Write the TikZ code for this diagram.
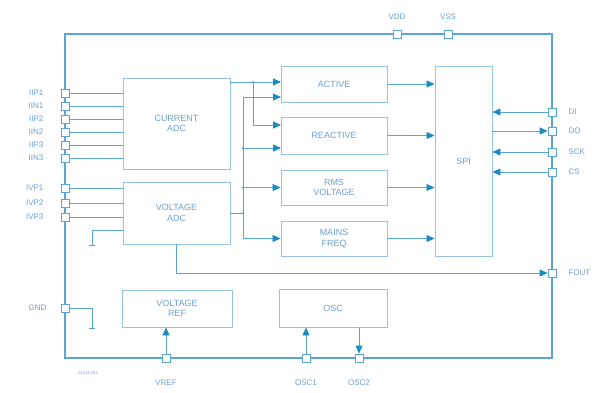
\documentclass[tikz,border=0pt]{standalone}
\usepackage{fontspec}
\setmainfont{Liberation Sans}
\usetikzlibrary{positioning,arrows.meta}
\definecolor{lineblue}{RGB}{90,165,215}
\definecolor{boxblue}{RGB}{150,195,228}
\definecolor{txtblue}{RGB}{105,160,210}
\definecolor{tipblue}{RGB}{25,140,195}

\begin{document}
\begin{tikzpicture}[
        x=1pt, y=-1pt,
        block/.style={draw=boxblue, line width=0.9pt, align=center, text=txtblue, font=\fontsize{9}{10.5}\selectfont, inner sep=0pt},
        pin/.style={draw=lineblue, fill=white, line width=0.8pt, minimum size=8pt, inner sep=0pt},
        lbl/.style={text=txtblue, font=\fontsize{8}{9.5}\selectfont, inner sep=0pt},
        wire/.style={draw=lineblue, line width=0.8pt},
        sig/.style={wire, -{Triangle[length=8pt,width=7pt,color=tipblue]}},
        frame/.style={draw=lineblue, line width=1.3pt},
        dot/.style={circle, fill=lineblue, inner sep=0pt, minimum size=2.5pt},
    ]
    \useasboundingbox (0,0) rectangle (597,392);
    \draw[frame] (65,34) rectangle (552,358);

    % blocks
    \node[block, minimum width=107pt, minimum height=91pt] (cadc) at (176.5,123.5) {CURRENT\\ADC};
    \node[block, minimum width=107pt, minimum height=62pt] (vadc) at (176.5,213) {VOLTAGE\\ADC};
    \node[block, minimum width=110pt, minimum height=37pt] (vrefb) at (177,308.5) {VOLTAGE\\REF};
    \node[block, minimum width=108pt, minimum height=38pt] (osc) at (333,308) {OSC};
    \node[block, minimum width=106pt, minimum height=36pt] (active) at (334,84) {ACTIVE};
    \node[block, minimum width=106pt, minimum height=37pt] (reactive) at (334,135.5) {REACTIVE};
    \node[block, minimum width=106pt, minimum height=35pt] (rms) at (334,187.5) {RMS\\VOLTAGE};
    \node[block, minimum width=106pt, minimum height=35pt] (mains) at (334,238.5) {MAINS\\FREQ};
    \node[block, minimum width=57pt, minimum height=190pt] (spi) at (463.5,161) {SPI};

    % input pins
    \foreach \nm/\yy/\txt in {iip1/93/IIP1, iin1/106/IIN1, iip2/119/IIP2, iin2/132/IIN2, iip3/145/IIP3, iin3/158/IIN3} {
        \node[pin] (\nm) at (65,\yy) {};
        \node[lbl, left=17pt of \nm] (\nm-l) {\txt};
        \draw[wire] (\nm) -- (\nm -| cadc.west);
    }
    \foreach \nm/\yy/\txt in {ivp1/188/IVP1, ivp2/203/IVP2, ivp3/217/IVP3} {
        \node[pin] (\nm) at (65,\yy) {};
        \node[lbl, left=17pt of \nm] (\nm-l) {\txt};
        \draw[wire] (\nm) -- (\nm -| vadc.west);
    }
    \node[pin] (gnd) at (65,308) {};
    \node[lbl, left=14pt of gnd] (gnd-l) {GND};

    % supply pins
    \node[pin] (vdd) at (397,34) {};
    \node[lbl, above=10pt of vdd] (vdd-l) {VDD};
    \node[pin] (vss) at (448,34) {};
    \node[lbl, above=10pt of vss] (vss-l) {VSS};

    % serial port pins
    \foreach \nm/\yy/\txt in {pdi/112/DI, pdo/131/DO, psck/152/SCK, pcs/172/CS, fout/273/FOUT} {
        \node[pin] (\nm) at (552,\yy) {};
        \node[lbl, right=12pt of \nm] (\nm-l) {\txt};
    }

    % bottom pins
    \node[pin] (pvref) at (166,358) {};
    \node[lbl, below=17pt of pvref] (pvref-l) {VREF};
    \node[pin] (posc1) at (306,358) {};
    \node[lbl, below=17pt of posc1] (posc1-l) {OSC1};
    \node[pin] (posc2) at (359,358) {};
    \node[lbl, below=17pt of posc2] (posc2-l) {OSC2};
    \node[lbl, font=\fontsize{4}{5}\selectfont] (figno) at (88,373) {01234-001};

    % ground returns
    \coordinate (vg) at (92,230);
    \coordinate (vgnd) at (92,245);
    \draw[wire] (vg -| vadc.west) -- (vg) -- (vgnd);
    \draw[wire] (vgnd) +(-3,0) -- +(3,0);
    \coordinate (gg) at (92,328);
    \draw[wire] (gnd) -| (gg);
    \draw[wire] (gg) +(-3,0) -- +(3,0);

    % ADC outputs
    \coordinate (a1) at (281,82);
    \coordinate (a2) at (281,97);
    \coordinate (r1) at (281,125);
    \coordinate (r2) at (281,148);
    \coordinate (ibus) at (253,82);
    \coordinate (vbus) at (243,213);
    \draw[sig] (cadc.east |- a1) -- (a1);
    \draw[sig] (ibus) |- (r1);
    \draw[wire] (vadc.east) -- (vbus);
    \draw[wire] (vbus |- a2) -- (vbus |- mains.west);
    \draw[sig] (vbus |- a2) -- (a2);
    \draw[sig] (vbus |- r2) -- (r2);
    \draw[sig] (vbus |- rms.west) -- (rms.west);
    \draw[sig] (vbus |- mains.west) -- (mains.west);
    \node[dot] at (ibus) {};
    \node[dot] at (vbus |- r2) {};
    \node[dot] at (vbus |- rms.west) {};
    \node[dot] at (vbus) {};

    % to the serial port
    \foreach \b in {active, reactive, rms, mains}
        \draw[sig] (\b.east) -- (\b.east -| spi.west);
    \draw[sig] (pdi) -- (pdi -| spi.east);
    \draw[sig] (pdo -| spi.east) -- (pdo);
    \draw[sig] (psck) -- (psck -| spi.east);
    \draw[sig] (pcs) -- (pcs -| spi.east);
    \draw[sig] (vadc.south) |- (fout);

    % reference and clock
    \draw[sig] (pvref) -- (pvref |- vrefb.south);
    \draw[sig] (posc1) -- (posc1 |- osc.south);
    \draw[sig] (posc2 |- osc.south) -- (posc2);
\end{tikzpicture}
\end{document}
